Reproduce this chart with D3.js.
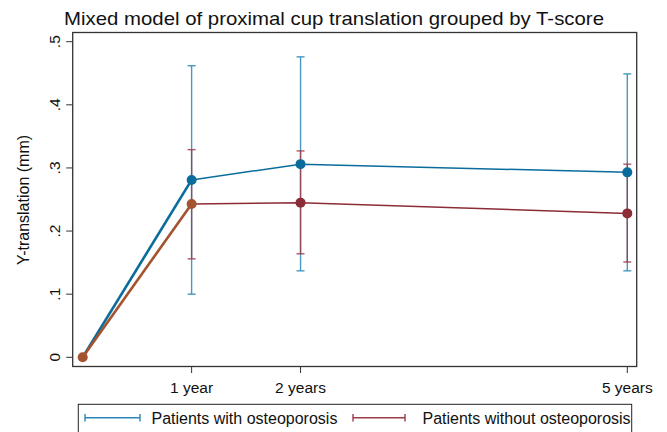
<!DOCTYPE html>
<head>
  <meta charset="utf-8">
  <title>Mixed model of proximal cup translation grouped by T-score</title>
  <style>
    body { margin: 0; background: #fff; font-family: "Liberation Sans", Arial, Helvetica, sans-serif; }
  </style>
  <script src="https://cdn.jsdelivr.net/npm/d3@7/dist/d3.min.js"></script>
</head>
<body>
<script>
  // data (years after surgery, translation in mm)
  var years = [1, 2, 5];
  var yearLabels = ["1 year", "2 years", "5 years"];
  var osteoMean = [0.281, 0.306, 0.293];
  var osteoLow  = [0.100, 0.137, 0.137];
  var osteoHigh = [0.462, 0.476, 0.449];
  var normMean  = [0.243, 0.245, 0.228];
  var normLow   = [0.156, 0.164, 0.151];
  var normHigh  = [0.329, 0.327, 0.306];
  var yTicks = [0, 0.1, 0.2, 0.3, 0.4, 0.5];
  var seriesNames = ["Patients with osteoporosis", "Patients without osteoporosis"];

  var width = 667, height = 432;
  var box = {left: 72.7, right: 636.7, top: 32.5, bottom: 366.5};

  var blue = "#0b6c9c", blueBar = "#2a86b6";
  var red = "#8c2c36", redBar = "#9c3c48";
  var brown = "#a3532e";

  var svg = d3.select("body").append("svg")
    .attr("width", width)
    .attr("height", height)
    .style("font-family", "'Liberation Sans', Arial, sans-serif");

  var x = d3.scaleLinear().domain([0, 5]).range([82.7, 627.3]);
  var y = d3.scaleLinear().domain([0, 0.5]).range([357.3, 41.7]);

  function rows(mean, lo, hi) {
    return years.map(function (t, i) { return {t: t, m: mean[i], lo: lo[i], hi: hi[i]}; });
  }
  var osteo = rows(osteoMean, osteoLow, osteoHigh);
  var norm = rows(normMean, normLow, normHigh);

  // title
  svg.append("text")
    .attr("x", 64).attr("y", 24.5)
    .attr("font-size", "19px")
    .attr("textLength", 540)
    .attr("lengthAdjust", "spacingAndGlyphs")
    .attr("fill", "#111")
    .text("Mixed model of proximal cup translation grouped by T-score");

  // plot frame
  svg.append("rect")
    .attr("x", box.left).attr("y", box.top)
    .attr("width", box.right - box.left).attr("height", box.bottom - box.top)
    .attr("fill", "none").attr("stroke", "#333").attr("stroke-width", 1.3);

  // y axis
  var yAxis = svg.append("g").attr("id", "y_axis");
  yAxis.selectAll("line").data(yTicks).enter().append("line")
    .attr("x1", box.left - 6.5).attr("x2", box.left)
    .attr("y1", d => y(d)).attr("y2", d => y(d))
    .attr("stroke", "#333").attr("stroke-width", 1);
  yAxis.selectAll("text").data(yTicks).enter().append("text")
    .attr("transform", d => "translate(59.5," + y(d) + ") rotate(-90)")
    .attr("text-anchor", "middle")
    .attr("font-size", "15.5px")
    .attr("fill", "#111")
    .text(d => d === 0 ? "0" : d3.format(".1f")(d).replace(/^0/, ""));

  svg.append("text")
    .attr("transform", "translate(29,200) rotate(-90)")
    .attr("text-anchor", "middle")
    .attr("font-size", "16px")
    .attr("fill", "#111")
    .text("Y-translation (mm)");

  // x axis
  var xAxis = svg.append("g").attr("id", "x_axis");
  xAxis.selectAll("line").data(years).enter().append("line")
    .attr("x1", d => x(d)).attr("x2", d => x(d))
    .attr("y1", box.bottom).attr("y2", box.bottom + 6.5)
    .attr("stroke", "#333").attr("stroke-width", 1);
  xAxis.selectAll("text").data(years).enter().append("text")
    .attr("x", d => x(d)).attr("y", 392.5)
    .attr("text-anchor", "middle")
    .attr("font-size", "15.5px")
    .attr("fill", "#111")
    .text((d, i) => yearLabels[i]);

  // error bars
  function caps(data, col) {
    var g = svg.append("g")
      .attr("stroke", col).attr("stroke-width", 1.4).attr("stroke-opacity", 0.85);
    g.selectAll(".v").data(data).enter().append("line")
      .attr("x1", d => x(d.t)).attr("x2", d => x(d.t))
      .attr("y1", d => y(d.lo)).attr("y2", d => y(d.hi));
    g.selectAll(".hi").data(data).enter().append("line")
      .attr("x1", d => x(d.t) - 4).attr("x2", d => x(d.t) + 4)
      .attr("y1", d => y(d.hi)).attr("y2", d => y(d.hi));
    g.selectAll(".lo").data(data).enter().append("line")
      .attr("x1", d => x(d.t) - 4).attr("x2", d => x(d.t) + 4)
      .attr("y1", d => y(d.lo)).attr("y2", d => y(d.lo));
  }
  caps(osteo, blueBar);
  caps(norm, redBar);

  var line = d3.line().x(d => x(d.t)).y(d => y(d.m));

  // connecting lines over follow-up
  svg.append("path").datum(norm)
    .attr("d", line).attr("fill", "none")
    .attr("stroke", red).attr("stroke-width", 1.5);
  svg.append("path").datum(osteo)
    .attr("d", line).attr("fill", "none")
    .attr("stroke", blue).attr("stroke-width", 1.5);

  svg.selectAll(".mnorm").data(norm.slice(1)).enter().append("circle")
    .attr("cx", d => x(d.t)).attr("cy", d => y(d.m)).attr("r", 5)
    .attr("fill", red);

  // baseline -> 1 year segments
  var start = {t: 0, m: 0};
  svg.append("path").datum([start, osteo[0]])
    .attr("d", line).attr("fill", "none")
    .attr("stroke", blue).attr("stroke-width", 2.6);
  svg.append("path").datum([start, norm[0]])
    .attr("d", line).attr("fill", "none")
    .attr("stroke", brown).attr("stroke-width", 2.6);

  svg.selectAll(".mosteo").data(osteo).enter().append("circle")
    .attr("cx", d => x(d.t)).attr("cy", d => y(d.m)).attr("r", 5)
    .attr("fill", blue);
  svg.selectAll(".mstart").data([start, norm[0]]).enter().append("circle")
    .attr("cx", d => x(d.t)).attr("cy", d => y(d.m)).attr("r", 5)
    .attr("fill", brown);

  // legend
  var leg = svg.append("g");
  leg.append("rect")
    .attr("x", 78.3).attr("y", 404.3)
    .attr("width", 631.7 - 78.3).attr("height", 40)
    .attr("fill", "#fff").attr("stroke", "#222").attr("stroke-width", 1);
  var legItems = [
    {x0: 85, x1: 140, tx: 151.5, col: blueBar, name: seriesNames[0]},
    {x0: 353, x1: 405, tx: 422.5, col: redBar, name: seriesNames[1]}
  ];
  legItems.forEach(function (it) {
    var g = leg.append("g").attr("stroke", it.col).attr("stroke-width", 1.4);
    g.append("line").attr("x1", it.x0).attr("x2", it.x1).attr("y1", 417.7).attr("y2", 417.7);
    g.append("line").attr("x1", it.x0).attr("x2", it.x0).attr("y1", 414).attr("y2", 421.5);
    g.append("line").attr("x1", it.x1).attr("x2", it.x1).attr("y1", 414).attr("y2", 421.5);
    leg.append("text")
      .attr("x", it.tx).attr("y", 423.5)
      .attr("font-size", "16px")
      .attr("fill", "#111")
      .text(it.name);
  });
</script>
</body>
